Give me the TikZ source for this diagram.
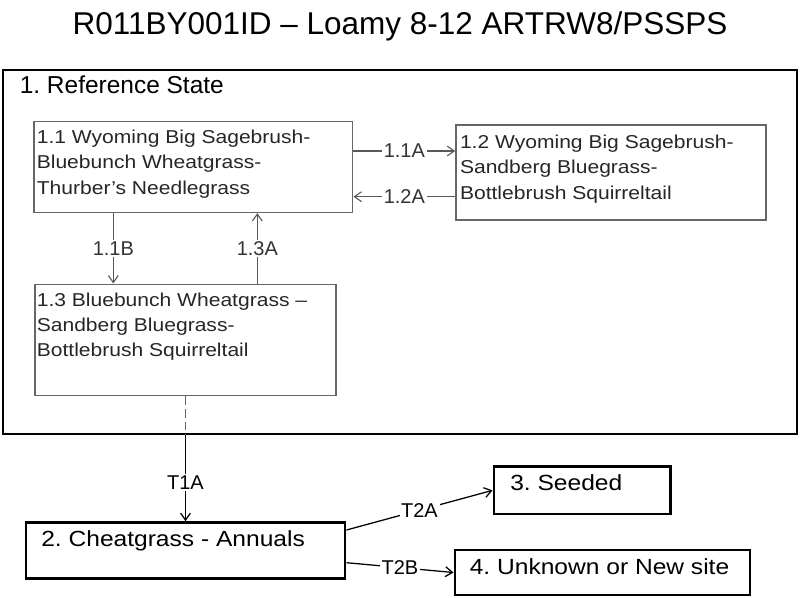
\documentclass[tikz,border=0pt]{standalone}
\usepackage{fontspec}
\setmainfont{Liberation Sans}
\newfontfamily\phasefont[FakeStretch=1.13]{Liberation Sans}
\newfontfamily\statefont[FakeStretch=1.12]{Liberation Sans}
\usepackage{tikz}
\usetikzlibrary{arrows.meta,positioning,fit}
\frenchspacing

\tikzset{
    phasebox/.style={draw=black!60, line width=1.1pt, inner sep=0pt},
    statebox/.style={draw=black, line width=2.1pt, inner sep=0pt},
    phasetext/.style={font=\phasefont\fontsize{13.25}{17.9}\selectfont, text=black!85,
        align=left, inner sep=0pt, anchor=north west},
    statetext/.style={font=\statefont\fontsize{15.6}{18}\selectfont, inner sep=0pt, anchor=base west},
    lbl/.style={font=\fontsize{14.2}{16}\selectfont, fill=white, inner sep=1.2pt},
    arr/.style={-{Straight Barb[length=5pt,width=7pt]}, line width=0.9pt},
    inarr/.style={arr, draw=black!65, line width=0.8pt},
}

\begin{document}
\begin{tikzpicture}[x=0.025cm, y=-0.025cm]
    \useasboundingbox (0,0) rectangle (800,597);

    % Title
    \node[font=\fontsize{22.4}{26}\selectfont, anchor=base, inner sep=0pt] (title) at (400,34.3)
        {R011BY001ID – Loamy 8-12 ARTRW8/PSSPS};

    % Reference state frame
    \node[statebox, fit={(3,70) (797,434)}] (ref) {};
    \node[font=\fontsize{17.4}{20}\selectfont, anchor=base west, inner sep=0pt] (reftext)
        at ([shift={(18,25)}]ref.north west) {1. Reference State};

    % Community phases
    \node[phasebox, fit={(34,121.7) (352.7,212.3)}] (b11) {};
    \node[phasetext] (t11) at ([shift={(3.3,9)}]b11.north west)
        {1.1 Wyoming Big Sagebrush-\\Bluebunch Wheatgrass-\\Thurber’s Needlegrass};
    \node[phasebox, fit={(456,125) (766,220)}] (b12) {};
    \node[phasetext] (t12) at ([shift={(4.5,10.8)}]b12.north west)
        {1.2 Wyoming Big Sagebrush-\\Sandberg Bluegrass-\\Bottlebrush Squirreltail};
    \node[phasebox, fit={(35,284.3) (336,395.7)}] (b13) {};
    \node[phasetext] (t13) at ([shift={(2.3,9.2)}]b13.north west)
        {1.3 Bluebunch Wheatgrass –\\Sandberg Bluegrass-\\Bottlebrush Squirreltail};

    % Other states
    \node[statebox, fit={(26,522.7) (345,578.3)}] (b2) {};
    \node[statetext] (t2) at ([shift={(16.5,25.6)}]b2.north west) {2. Cheatgrass - Annuals};
    \node[statebox, fit={(494,466.7) (670.7,514)}] (b3) {};
    \node[statetext] (t3) at ([shift={(17.5,25.6)}]b3.north west) {3. Seeded};
    \node[statebox, fit={(455,550) (750,595)}] (b4) {};
    \node[statetext] (t4) at ([shift={(16,25.5)}]b4.north west) {4. Unknown or New site};

    % Pathways within the reference state
    \draw[inarr] (b11.east |- 0,151) -- node[lbl, text=black!80]{1.1A} (b12.west |- 0,151);
    \draw[inarr] (b12.west |- 0,196.7) -- node[lbl, text=black!80]{1.2A} (b11.east |- 0,196.7);
    \draw[inarr] (b11.south -| 113.3,0) -- node[lbl, text=black!80]{1.1B} (b13.north -| 113.3,0);
    \draw[inarr] (b13.north -| 257.3,0) -- node[lbl, text=black!80]{1.3A} (b11.south -| 257.3,0);

    % Transitions
    \draw[black!60, line width=0.8pt, dash pattern=on 6pt off 3pt] (b13.south -| b2.north) -- (ref.south -| b2.north);
    \draw[arr] (ref.south -| b2.north) -- node[lbl, pos=0.55]{T1A} (b2.north);
    \draw[arr] (b2.east |- 0,530) -- node[lbl]{T2A} (b3.west);
    \draw[arr] (b2.east |- 0,562.7) -- node[lbl]{T2B} (b4.west);
\end{tikzpicture}
\end{document}
